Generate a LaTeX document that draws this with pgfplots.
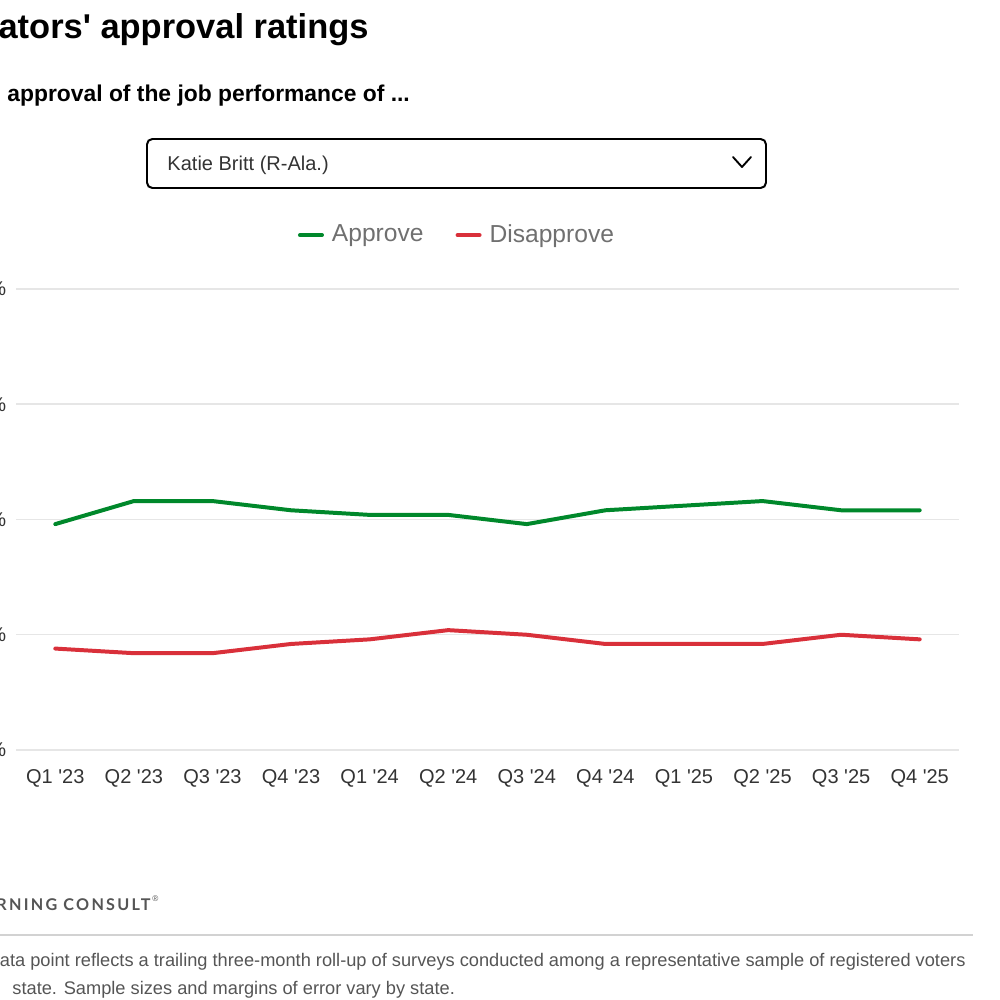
\documentclass[border=0pt]{standalone}
\usepackage{pgfplots}
\pgfplotsset{compat=1.18}
\usepackage{fontspec}
\setmainfont{Liberation Sans}
\newfontfamily\logofont[LetterSpace=14]{Lato}
\definecolor{appr}{HTML}{00882B}
\definecolor{disap}{HTML}{D9303A}
\definecolor{gridc}{HTML}{E6E6E6}
\definecolor{txt}{HTML}{333333}
\definecolor{leg}{HTML}{707070}
\definecolor{foot}{HTML}{555555}
\newcommand{\q}{\textquotesingle}
\begin{document}
\begin{tikzpicture}
\useasboundingbox (0,0) rectangle (15,15);
\clip (0,0) rectangle (15,15);
% title and subtitle
\node[anchor=base east, inner sep=0, font=\bfseries\fontsize{14.7}{16}\selectfont] at (5.535,14.415) {Senators\q{} approval ratings};
\node[anchor=base west, inner sep=0, font=\bfseries\fontsize{9.75}{11}\selectfont] at (0.105,13.47) {approval of the job performance of ...};
% dropdown
\draw[black, line width=0.85pt, rounded corners=0.08cm] (2.205,12.915) rectangle (11.49,12.18);
\node[anchor=base west, inner sep=0, text=txt, font=\fontsize{8.54}{10}\selectfont] at (2.505,12.435) {Katie Britt (R-Ala.)};
\draw[black, line width=0.8pt, line cap=round, line join=round] (10.995,12.645) -- (11.13,12.495) -- (11.265,12.645);
\begin{axis}[
  at={(0.24cm,3.75cm)}, anchor=south west,
  scale only axis, width=14.145cm, height=6.915cm,
  xmin=-0.5, xmax=11.5, ymin=0, ymax=100,
  axis line style={draw=none},
  major tick length=0pt,
  clip=false,
  ytick={0,25,50,75,100},
  yticklabels={0\%,25\%,50\%,75\%,100\%},
  xtick={0,...,11},
  xticklabels={Q1 \q23,Q2 \q23,Q3 \q23,Q4 \q23,Q1 \q24,Q2 \q24,Q3 \q24,Q4 \q24,Q1 \q25,Q2 \q25,Q3 \q25,Q4 \q25},
  ymajorgrids, grid style={gridc, line width=0.64pt},
  tick label style={text=txt, font=\fontsize{8.54}{10}\selectfont},
  xticklabel style={anchor=base, inner sep=0pt, yshift=-0.495cm},
  yticklabel style={anchor=east, inner sep=0pt, xshift=-0.14cm},
  legend style={at={(0.4666,1.117)}, anchor=center, draw=none, fill=none,
    font=\fontsize{10.5}{12}\selectfont, text=leg,
    nodes={inner sep=0pt},
    /tikz/every odd column/.append style={column sep=0.12cm},
    /tikz/every even column/.append style={column sep=0.48cm}},
  legend columns=2,
  legend image code/.code={\draw[#1, line width=1.7pt] (0cm,0cm) -- (0.33cm,0cm);},
]
\addplot[appr, line width=1.7pt, line join=round, line cap=round] coordinates {(0,49)(1,54)(2,54)(3,52)(4,51)(5,51)(6,49)(7,52)(8,53)(9,54)(10,52)(11,52)};
\addlegendentry{Approve}
\addplot[disap, line width=1.7pt, line join=round, line cap=round] coordinates {(0,22)(1,21)(2,21)(3,23)(4,24)(5,26)(6,25)(7,23)(8,23)(9,23)(10,25)(11,24)};
\addlegendentry{Disapprove}
\end{axis}
% footer
\node[anchor=base east, inner sep=0, text=foot, font=\logofont\bfseries\fontsize{6.9}{8}\selectfont] at (2.265,1.335) {MORNING CONSULT};
\node[anchor=base west, inner sep=0, text=foot, font=\fontsize{3.5}{4}\selectfont] at (2.28,1.47) {®};
\draw[gridc!80!gray, line width=0.6pt] (0,0.975) -- (14.595,0.975);
\node[anchor=base east, inner sep=0, text=foot, font=\fontsize{7.78}{9}\selectfont] at (14.49,0.495) {Each data point reflects a trailing three-month roll-up of surveys conducted among a representative sample of registered voters};
\node[anchor=base west, inner sep=0, text=foot, font=\fontsize{7.78}{9}\selectfont] at (0.18,0.075) {state. Sample sizes and margins of error vary by state.};
\end{tikzpicture}
\end{document}
